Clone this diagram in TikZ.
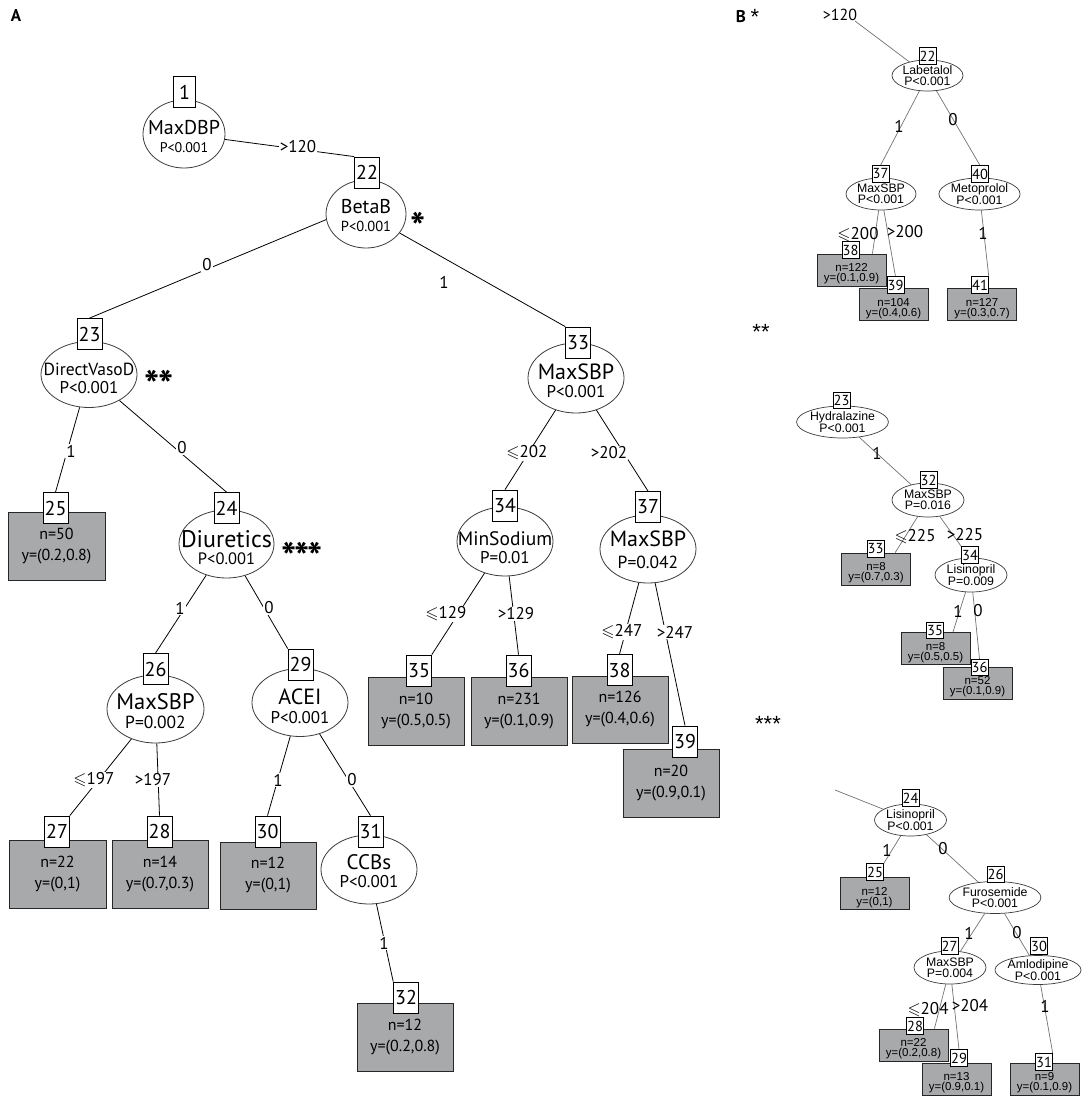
\documentclass[tikz,border=0pt]{standalone}
\usepackage{fontspec}
\usepackage{amssymb}
\setmainfont{PT Sans}
\newfontfamily\arialf{Liberation Sans}
\usetikzlibrary{shapes.geometric,calc}
\pgfdeclarelayer{back}
\pgfdeclarelayer{bg}
\pgfsetlayers{back,bg,main}
\definecolor{leafgray}{RGB}{167,169,171}
\definecolor{edgegray}{RGB}{115,115,115}
\definecolor{ellgray}{RGB}{60,60,60}
\newcommand\fsz[1]{\fontsize{#1}{#1}\selectfont}
\newcommand\leqs{$\leqslant$}
\tikzset{
  ell/.style={ellipse, draw=ellgray, fill=white, line width=0.8pt, inner sep=0pt},
  ttl/.style={inner sep=0pt},
  nbox/.style={rectangle, draw=black, fill=white, line width=0.8pt, minimum width=22pt, minimum height=31pt, inner sep=1.5pt, font=\fsz{20}},
  leaf/.style={rectangle, draw=black!85, fill=leafgray, line width=0.9pt, inner sep=0pt, align=center, font=\fontsize{16}{21}\selectfont},
  elbl/.style={fill=white, inner sep=1pt, font=\fsz{17}},
  conn/.style={draw=black, line width=0.8pt},
  bell/.style={ellipse, draw=ellgray, fill=white, line width=0.7pt, inner sep=0pt, align=center, font=\arialf\fontsize{12.3}{11.3}\selectfont},
  bbox/.style={rectangle, draw=black, fill=white, line width=0.7pt, minimum width=16pt, minimum height=16.5pt, inner sep=0.5pt, font=\fsz{14.5}},
  bleaf/.style={rectangle, draw=black!85, fill=leafgray, line width=0.8pt, minimum width=69pt, minimum height=32pt, inner sep=0pt},
  btxt/.style={inner sep=0pt, align=center, font=\arialf\fontsize{11.5}{10}\selectfont},
  bconn/.style={draw=edgegray, line width=0.7pt},
  blbl/.style={inner sep=0.5pt, font=\fsz{17}},
  star/.style={inner sep=0pt, font=\bfseries\fsz{40}},
  bstar/.style={inner sep=0pt, font=\arialf\fsz{22}},
  plbl/.style={inner sep=0pt, font=\bfseries\fsz{17}}
}
\begin{document}
\begin{tikzpicture}[x=1pt,y=-1pt]
\useasboundingbox (0,0) rectangle (1084,1101);
\begin{pgfonlayer}{back}
\fill[white] (0,0) rectangle (1084,1101);
\end{pgfonlayer}

\node[plbl] (labA) at (16,16) {A};
\node[plbl] (labB) at (741,17) {B};

% ================= Panel A =================
\node[ell,minimum width=82pt,minimum height=68pt] (E1) at (184,134) {};
\node[ttl,font=\fsz{20}] (T1) at (184,128) {MaxDBP};
\node[ttl,font=\fsz{14}] (P1) at (184,148) {P<0.001};
\node[nbox] (N1) at (184.5,92) {1};

\node[ell,minimum width=80pt,minimum height=68pt] (E22) at (366,214) {};
\node[ttl,font=\fsz{20}] (T22) at (366,207) {BetaB};
\node[ttl,font=\fsz{14.5}] (P22) at (366,226) {P<0.001};
\node[nbox] (N22) at (367,172.5) {22};

\node[ell,minimum width=96pt,minimum height=66pt] (E23) at (89,374.5) {};
\node[ttl,font=\fsz{17.5}] (T23) at (89,369) {DirectVasoD};
\node[ttl,font=\fsz{17}] (P23) at (89,388) {P<0.001};
\node[nbox] (N23) at (89.5,334) {23};

\node[ell,minimum width=95pt,minimum height=68pt] (E24) at (226.5,544) {};
\node[ttl,font=\fsz{24}] (T24) at (226.5,539) {Diuretics};
\node[ttl,font=\fsz{16.5}] (P24) at (226.5,559) {P<0.001};
\node[nbox] (N24) at (226.5,508) {24};

\node[ell,minimum width=97pt,minimum height=68pt] (E26) at (155.5,709) {};
\node[ttl,font=\fsz{22.5}] (T26) at (155.5,702) {MaxSBP};
\node[ttl,font=\fsz{17.5}] (P26) at (155.5,722) {P=0.002};
\node[nbox] (N26) at (155.5,669) {26};

\node[ell,minimum width=96pt,minimum height=68pt] (E29) at (300,702.5) {};
\node[ttl,font=\fsz{22}] (T29) at (300,697) {ACEI};
\node[ttl,font=\fsz{17}] (P29) at (300,718) {P<0.001};
\node[nbox] (N29) at (300.5,664.5) {29};

\node[ell,minimum width=96pt,minimum height=69pt] (E31) at (369,869.5) {};
\node[ttl,font=\fsz{21}] (T31) at (369,862) {CCBs};
\node[ttl,font=\fsz{17}] (P31) at (369,882) {P<0.001};
\node[nbox] (N31) at (370.5,831.5) {31};

\node[ell,minimum width=96pt,minimum height=70pt] (E33) at (576,378) {};
\node[ttl,font=\fsz{22}] (T33) at (576,372) {MaxSBP};
\node[ttl,font=\fsz{17}] (P33) at (576,392) {P<0.001};
\node[nbox] (N33) at (578,342.5) {33};

\node[ell,minimum width=96pt,minimum height=69pt] (E34) at (505,541.5) {};
\node[ttl,font=\fsz{19.5}] (T34) at (505,539) {MinSodium};
\node[ttl,font=\fsz{17}] (P34) at (505,558) {P=0.01};
\node[nbox] (N34) at (505,505.5) {34};

\node[ell,minimum width=96pt,minimum height=68pt] (E37) at (648,549) {};
\node[ttl,font=\fsz{22}] (T37) at (648,539) {MaxSBP};
\node[ttl,font=\fsz{17.5}] (P37) at (648,562) {P=0.042};
\node[nbox] (N37) at (648,507) {37};

% leaves
\node[leaf,minimum width=97pt,minimum height=68pt] (L25) at (56.5,546) {n=50\\y=(0.2,0.8)};
\node[nbox] (N25) at (55.5,508) {25};
\node[leaf,minimum width=97pt,minimum height=68pt] (L27) at (57.5,874) {n=22\\y=(0,1)};
\node[nbox] (N27) at (57,831.5) {27};
\node[leaf,minimum width=96pt,minimum height=68pt] (L28) at (160,874) {n=14\\y=(0.7,0.3)};
\node[nbox] (N28) at (159.5,831.5) {28};
\node[leaf,minimum width=96pt,minimum height=67pt] (L30) at (268,875.5) {n=12\\y=(0,1)};
\node[nbox] (N30) at (267.5,831.5) {30};
\node[leaf,minimum width=96pt,minimum height=68pt] (L32) at (405,1037) {n=12\\y=(0.2,0.8)};
\node[nbox] (N32) at (406,997.5) {32};
\node[leaf,minimum width=96pt,minimum height=68pt] (L35) at (416,711) {n=10\\y=(0.5,0.5)};
\node[nbox] (N35) at (419,670.5) {35};
\node[leaf,minimum width=96pt,minimum height=68pt] (L36) at (519,711) {n=231\\y=(0.1,0.9)};
\node[nbox] (N36) at (518.5,670.5) {36};
\node[leaf,minimum width=96pt,minimum height=67pt] (L38) at (620,709.5) {n=126\\y=(0.4,0.6)};
\node[nbox] (N38) at (619.5,670) {38};
\node[leaf,minimum width=96pt,minimum height=68pt] (L39) at (671,783) {n=20\\y=(0.9,0.1)};
\node[nbox] (N39) at (685,741.5) {39};

\begin{pgfonlayer}{bg}
\draw[conn] (E1) -- (N22.north west);
\draw[conn] (E22.188) -- (N23.north);
\draw[conn] (E22) -- (N33.north west);
\draw[conn] (E23) -- (N25.north);
\draw[conn] (E23) -- (N24.north);
\draw[conn] (E24) -- (N26.north);
\draw[conn] (E24) -- (N29.north west);
\draw[conn] (E26) -- (N27.north east);
\draw[conn] (E26) -- (N28.north);
\draw[conn] (E29) -- (N30.north);
\draw[conn] (E29) -- (N31.north);
\draw[conn] (E31) -- (N32.north west);
\draw[conn] (E33) -- (N34.north);
\draw[conn] (E33) -- (N37.north);
\draw[conn] (E34) -- (N35.north east);
\draw[conn] (E34) -- (N36.north);
\draw[conn] (E37) -- (N38.north);
\draw[conn] (E37) -- (N39.north);
\end{pgfonlayer}

\node[elbl] (a1) at (298,147) {>120};
\node[elbl] (a2) at (207,265) {0};
\node[elbl] (a3) at (444,282) {1};
\node[elbl] (a4) at (71,451) {1};
\node[elbl] (a5) at (182,448) {0};
\node[elbl] (a6) at (180,608) {1};
\node[elbl] (a7) at (269,608) {0};
\node[elbl] (a8) at (94,780) {\leqs197};
\node[elbl] (a9) at (153,780) {>197};
\node[elbl] (a10) at (278,780) {1};
\node[elbl] (a11) at (352,780) {0};
\node[elbl] (a12) at (384,943) {1};
\node[elbl] (a13) at (527,453) {\leqs202};
\node[elbl] (a14) at (609,453) {>202};
\node[elbl] (a15) at (446,614) {\leqs129};
\node[elbl] (a16) at (516,614) {>129};
\node[elbl] (a17) at (622,632) {\leqs247};
\node[elbl] (a18) at (675,632) {>247};

\node[star] (s1) at (418,226.5) {*};
\node[star] (s2) at (159,384.5) {*\kern-2pt*};
\node[star] (s3) at (302,557) {*\kern-2pt*\kern-2pt*};

% ================= Panel B =================
\node[bstar] (bs1) at (755,17) {*};
\node[bstar] (bs2) at (761,332) {**};
\node[bstar] (bs3) at (768,724) {***};

\node[bell,minimum width=71pt,minimum height=31pt] (BE22) at (927.5,75.5) {Labetalol\\P<0.001};
\node[bbox] (BN22) at (927.5,56) {22};
\node[bell,minimum width=70pt,minimum height=32pt] (BE37) at (881,194) {MaxSBP\\P<0.001};
\node[bbox] (BN37) at (880.5,174) {37};
\node[bell,minimum width=73pt,minimum height=32pt] (BE40) at (979.5,194) {Metoprolol\\P<0.001};
\node[bbox] (BN40) at (980,174) {40};
\node[bleaf] (BL38) at (851.5,270) {};
\node[btxt] (BT38) at ([yshift=-4pt]BL38.center) {n=122\\y=(0.1,0.9)};
\node[bbox] (BN38) at (850.5,250) {38};
\node[bleaf] (BL39) at (893.5,304.5) {};
\node[btxt] (BT39) at ([yshift=-4pt]BL39.center) {n=104\\y=(0.4,0.6)};
\node[bbox] (BN39) at (895.5,285) {39};
\node[bleaf] (BL41) at (982,304.5) {};
\node[btxt] (BT41) at ([yshift=-4pt]BL41.center) {n=127\\y=(0.3,0.7)};
\node[bbox] (BN41) at (980,285) {41};
\coordinate (Bc1) at (855,21);

\node[bell,minimum width=72pt,minimum height=32pt] (BE23) at (842.5,422) {Hydralazine\\P<0.001};
\node[bbox] (BN23) at (841.5,400.5) {23};
\node[bell,minimum width=72pt,minimum height=34pt] (BE32) at (928,500) {MaxSBP\\P=0.016};
\node[bbox] (BN32) at (928.5,480) {32};
\node[bell,minimum width=72pt,minimum height=34pt] (BE34) at (971,575) {Lisinopril\\P=0.009};
\node[bbox] (BN34) at (970,555) {34};
\node[bleaf] (BL33) at (876,569) {};
\node[btxt] (BT33) at ([yshift=-4pt]BL33.center) {n=8\\y=(0.7,0.3)};
\node[bbox] (BN33) at (875.5,549) {33};
\node[bleaf] (BL35) at (935.5,648.5) {};
\node[btxt] (BT35) at ([yshift=-4pt]BL35.center) {n=8\\y=(0.5,0.5)};
\node[bbox] (BN35) at (935,630.5) {35};
\node[bleaf] (BL36) at (977.5,683) {};
\node[btxt] (BT36) at ([yshift=-4pt]BL36.center) {n=52\\y=(0.1,0.9)};
\node[bbox] (BN36) at (979.5,667.5) {36};

\node[bell,minimum width=72pt,minimum height=32pt] (BE24) at (910.5,820) {Lisinopril\\P<0.001};
\node[bbox] (BN24) at (910.5,798) {24};
\node[bell,minimum width=74pt,minimum height=32pt] (BE26) at (995,897.5) {Furosemide\\P<0.001};
\node[bbox] (BN26) at (995.5,874.5) {26};
\node[bell,minimum width=72pt,minimum height=33pt] (BE27) at (950,967.5) {MaxSBP\\P=0.004};
\node[bbox] (BN27) at (949.5,946) {27};
\node[bell,minimum width=72pt,minimum height=29pt] (BE30) at (1038,970) {Amlodipine\\P<0.001};
\node[bbox] (BN30) at (1039,946) {30};
\node[bleaf] (BL25) at (874.5,893.5) {};
\node[btxt] (BT25) at ([yshift=-4pt]BL25.center) {n=12\\y=(0,1)};
\node[bbox] (BN25) at (875,872) {25};
\node[bleaf] (BL28) at (913.5,1045) {};
\node[btxt] (BT28) at ([yshift=-4pt]BL28.center) {n=22\\y=(0.2,0.8)};
\node[bbox] (BN28) at (915,1026) {28};
\node[bleaf] (BL29) at (956.5,1079) {};
\node[btxt] (BT29) at ([yshift=-4pt]BL29.center) {n=13\\y=(0.9,0.1)};
\node[bbox] (BN29) at (959,1058) {29};
\node[bleaf] (BL31) at (1044.5,1079) {};
\node[btxt] (BT31) at ([yshift=-4pt]BL31.center) {n=9\\y=(0.1,0.9)};
\node[bbox] (BN31) at (1044,1062) {31};
\coordinate (Bc2) at (835,790);

\begin{pgfonlayer}{bg}
\draw[bconn] (Bc1) -- (BE22);
\draw[bconn] (BE22) -- (BN37.north);
\draw[bconn] (BE22) -- (BN40.north);
\draw[bconn] (BE37) -- ($(BL38.north)!0.6!(BL38.north east)$);
\draw[bconn] (BE37) -- (BN39.north);
\draw[bconn] (BE40) -- (BN41.north east);
\draw[bconn] (BE23) -- (BE32);
\draw[bconn] (BE32) -- ($(BL33.north)!0.55!(BL33.north east)$);
\draw[bconn] (BE32) -- (BN34.north west);
\draw[bconn] (BE34) -- ($(BL35.north)!0.5!(BL35.north east)$);
\draw[bconn] (BE34) -- (BN36.north);
\draw[bconn] (Bc2) -- (BE24);
\draw[bconn] (BE24) -- (BN25.north east);
\draw[bconn] (BE24) -- (BE26);
\draw[bconn] (BE26) -- (BE27);
\draw[bconn] (BE26) -- (BE30);
\draw[bconn] (BE27) -- ($(BL28.north)!0.6!(BL28.north east)$);
\draw[bconn] (BE27) -- (BN29.north);
\draw[bconn] (BE30) -- (BN31.north east);
\end{pgfonlayer}

\node[blbl,font=\fsz{16}] (b1) at (840,15) {>120};
\node[blbl] (b2) at (899,126) {1};
\node[blbl] (b3) at (953,120) {0};
\node[blbl] (b4) at (858,235) {\leqs200};
\node[blbl] (b5) at (905,232) {>200};
\node[blbl] (b6) at (983,233) {1};
\node[blbl] (b7) at (877,453) {1};
\node[blbl] (b8) at (915,537) {\leqs225};
\node[blbl] (b9) at (965,535) {>225};
\node[blbl] (b10) at (958,611) {1};
\node[blbl] (b11) at (978,611) {0};
\node[blbl] (b12) at (887,850) {1};
\node[blbl] (b13) at (943,849) {0};
\node[blbl] (b14) at (969,933) {1};
\node[blbl] (b15) at (1017,933) {0};
\node[blbl] (b16) at (928,1010) {\leqs204};
\node[blbl] (b17) at (970,1006) {>204};
\node[blbl] (b18) at (1045,1006) {1};
\end{tikzpicture}
\end{document}
